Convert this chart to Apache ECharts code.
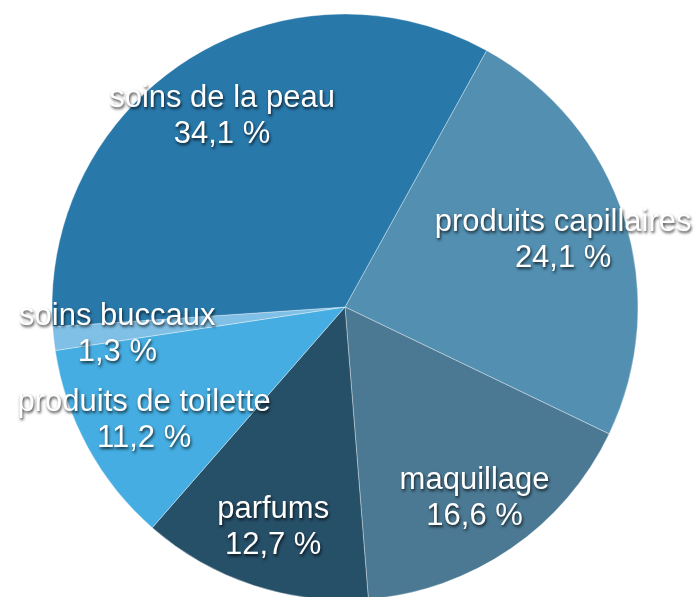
<!DOCTYPE html>
<html>
<head>
<meta charset="utf-8">
<script src="https://cdn.jsdelivr.net/npm/echarts@6/dist/echarts.min.js"></script>
<style>
  html, body { margin: 0; padding: 0; background: #ffffff; }
  #chart { width: 694px; height: 597px; }
</style>
</head>
<body>
<div id="chart"></div>
<script>
// parts de marché par catégorie (%), dans le sens horaire
var categories = ["produits capillaires", "maquillage", "parfums", "produits de toilette", "soins buccaux", "soins de la peau"];
var shares = [24.1, 16.6, 12.7, 11.2, 1.3, 34.1];
var colors = ["#528fb1", "#4b7993", "#264f68", "#45ade1", "#80c0e6", "#2878aa"];

var chart = echarts.init(document.getElementById("chart"));

var pieData = categories.map(function (name, i) {
  return { name: name, value: shares[i], itemStyle: { color: colors[i] } };
});

chart.setOption({
  animation: false,
  series: [
    {
      type: "pie",
      center: [345, 307],
      radius: [0, 293],
      startAngle: 61.1,
      clockwise: true,
      silent: true,
      data: pieData,
      itemStyle: { borderColor: "rgba(255,255,255,0.35)", borderWidth: 1 },
      label: { show: false },
      labelLine: { show: false }
    },
    {
      // couche transparente pour placer les étiquettes vers l'extérieur
      type: "pie",
      center: [345, 307],
      radius: [159, 293],
      startAngle: 61.1,
      clockwise: true,
      silent: true,
      data: categories.map(function (name, i) {
        return { name: name, value: shares[i] };
      }),
      itemStyle: { color: "rgba(0,0,0,0)" },
      labelLine: { show: false },
      label: {
        show: true,
        position: "inside",
        overflow: "none",
        offset: [0, 3],
        color: "#ffffff",
        fontFamily: "Liberation Sans, Arial, sans-serif",
        fontSize: 31,
        lineHeight: 36,
        textShadowColor: "rgba(0,0,0,0.75)",
        textShadowBlur: 3,
        textShadowOffsetX: 1,
        textShadowOffsetY: 2,
        formatter: function (p) {
          return p.name + "\n" + p.value.toFixed(1).replace(".", ",") + " %";
        }
      }
    }
  ]
});
</script>
</body>
</html>
